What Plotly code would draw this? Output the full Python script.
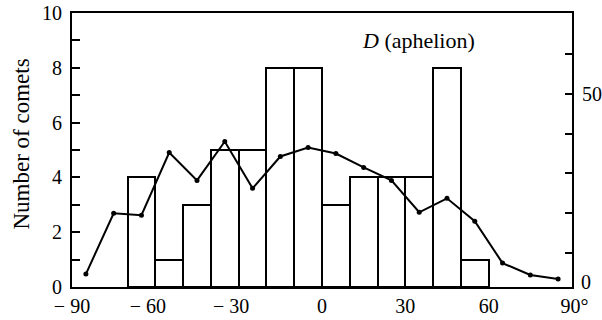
import plotly.graph_objects as go

# Histogram: number of comets per 10-degree bin (left axis)
bin_centers = [-65, -55, -45, -35, -25, -15, -5, 5, 15, 25, 35, 45, 55]
bin_counts = [4, 1, 3, 5, 5, 8, 8, 3, 4, 4, 4, 8, 1]

# Reference curve (right axis)
curve_x = [-85, -75, -65, -55, -45, -35, -25, -15, -5, 5, 15, 25, 35, 45, 55, 65, 75, 85]
curve_y = [4.75, 20, 19.5, 35.25, 28.25, 38, 26.25, 34.25, 36.5, 35, 31.5, 28.25, 20.25, 23.75, 18, 7.5, 4.5, 3.5]

x_ticks = [-90, -60, -30, 0, 30, 60, 90]
x_ticktext = ["\u2212\u00a090", "\u2212\u00a060\u00a0\u00a0\u00a0", "\u2212\u00a030\u00a0\u00a0\u00a0",
              "0", "30", "60", "\u00a090\u00b0"]
left_ticks = list(range(0, 11))
left_ticktext = [str(v) if v % 2 == 0 else "" for v in left_ticks]
right_ticks = [10, 20, 30, 40, 50, 60]
right_ticktext = ["", "", "", "", "50", ""]

FONT = "Liberation Serif"

fig = go.Figure()
fig.add_trace(go.Bar(
    x=bin_centers, y=bin_counts, width=10,
    marker=dict(color="white", line=dict(color="black", width=2)),
    showlegend=False,
))
fig.add_trace(go.Scatter(
    x=curve_x, y=curve_y, yaxis="y2", mode="lines+markers",
    line=dict(color="black", width=2),
    marker=dict(color="black", size=5),
    showlegend=False, cliponaxis=False,
))

fig.update_layout(
    width=602, height=320,
    margin=dict(l=72, r=30, t=13, b=33, autoexpand=False),
    paper_bgcolor="white", plot_bgcolor="white",
    font=dict(family=FONT, size=20, color="black"),
    bargap=0,
    xaxis=dict(
        range=[-90, 90], showgrid=False, zeroline=False, automargin=False,
        showline=True, linecolor="black", linewidth=2, mirror=True,
        tickmode="array", tickvals=x_ticks, ticktext=x_ticktext,
        ticks="", ticklabelstandoff=0,
        tickfont=dict(family=FONT, size=20, color="black"),
    ),
    yaxis=dict(
        range=[0, 10], showgrid=False, zeroline=False, automargin=False,
        showline=True, linecolor="black", linewidth=2,
        tickmode="array", tickvals=left_ticks, ticktext=left_ticktext,
        ticks="inside", ticklen=8, tickwidth=2, tickcolor="black",
        ticklabelstandoff=4,
        tickfont=dict(family=FONT, size=20, color="black"),
    ),
    yaxis2=dict(
        range=[1.5, 70.25], overlaying="y", side="right", automargin=False,
        showgrid=False, zeroline=False,
        showline=True, linecolor="black", linewidth=2,
        tickmode="array", tickvals=right_ticks, ticktext=right_ticktext,
        ticks="inside", ticklen=7, tickwidth=2, tickcolor="black",
        ticklabelstandoff=4,
        tickfont=dict(family=FONT, size=20, color="black"),
    ),
    annotations=[
        dict(text="Number of comets", textangle=-90, xref="paper", yref="paper",
             x=-0.1, y=0.52, xanchor="center", yanchor="middle", showarrow=False,
             font=dict(family=FONT, size=23, color="black")),
        dict(text="<i>D</i> (aphelion)", xref="paper", yref="paper",
             x=0.576, y=0.901, xanchor="left", yanchor="middle", showarrow=False,
             font=dict(family=FONT, size=22, color="black")),
        dict(text="0", xref="paper", yref="paper", x=1, y=0, xanchor="left",
             yanchor="middle", xshift=7, yshift=5, showarrow=False,
             font=dict(family=FONT, size=20, color="black")),
    ],
)

fig.write_html("out.html")
